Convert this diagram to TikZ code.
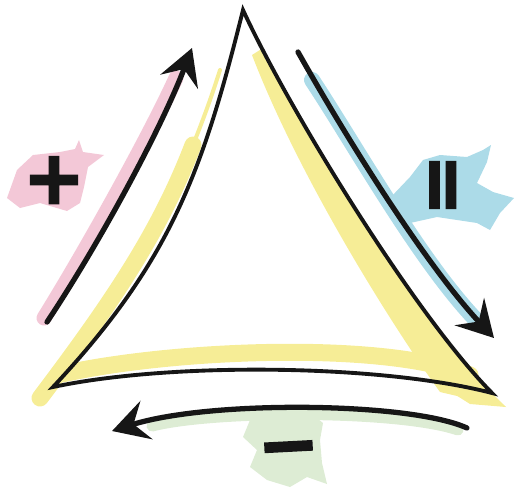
\documentclass[tikz,border=0pt]{standalone}
\usepackage{fontspec}
\usepackage{tikz}
\usetikzlibrary{arrows.meta}
\newfontfamily\signfont[FakeBold=3]{DejaVu Sans Bold}
\definecolor{myink}{RGB}{22,22,22}
\definecolor{myyellow}{RGB}{246,237,150}
\definecolor{mypink}{RGB}{243,200,215}
\definecolor{myblue}{RGB}{172,219,232}
\definecolor{mygreen}{RGB}{221,236,212}
\tikzset{
  side/.style={draw=myink, line width=2.2pt, line join=miter},
  flow/.style={draw=myink, line width=3pt, line cap=round,
    -{Stealth[length=0.72cm, width=0.8cm, inset=0.27cm]}},
  wash/.style={line width=0.34cm, line cap=round},
  thinwash/.style={line width=0.08cm, line cap=round},
  sign/.style={inner sep=0pt, text=myink,
    font=\signfont\fontsize{42}{42}\selectfont}
}

\begin{document}
\begin{tikzpicture}[x=0.02cm, y=-0.02cm]
  \useasboundingbox (0,0) rectangle (516,491);

  % corners and arrow ends
  \coordinate (apex) at (243,10);
  \coordinate (lft) at (53,387);
  \coordinate (rgt) at (492,393);
  \coordinate (plusA) at (47,322);
  \coordinate (plusB) at (192,48);
  \coordinate (eqA) at (298,52);
  \coordinate (eqB) at (494,338);
  \coordinate (minA) at (467,428);
  \coordinate (minB) at (112,431);

  % colour blobs
  \fill[mypink] (7,198) -- (17,170) -- (33,155) -- (60,152) -- (75,149) -- (79,140)
    -- (83,152) -- (104,155) -- (88,167) -- (84,187) -- (80,203) -- (67,211)
    -- (40,203) -- (20,208) -- cycle;
  \fill[myblue] (390,198) -- (410,177) -- (423,160) -- (440,155) -- (467,157)
    -- (483,150) -- (491,145) -- (487,162) -- (477,183) -- (493,192) -- (514,198)
    -- (500,213) -- (490,230) -- (477,223) -- (457,220) -- (437,217) -- (410,223)
    -- (394,204) -- cycle;
  \fill[mygreen] (243,437) -- (250,420) -- (273,413) -- (307,410) -- (323,423)
    -- (320,440) -- (322,463) -- (327,484) -- (307,477) -- (290,487) -- (267,480)
    -- (250,467) -- (257,450) -- cycle;

  % highlight strips
  \draw[mypink, line width=0.3cm, line cap=round]
    (44,318) .. controls (88,247) and (150,135) .. (176,78);
  \draw[myblue, line width=0.32cm, line cap=round]
    (312,80) .. controls (355,145) and (420,262) .. (478,322);
  \draw[mygreen, line width=0.22cm, line cap=round]
    (152,426) .. controls (215,410) and (400,410) .. (458,430);

  % yellow wash
  \draw[myyellow, wash] (40,398) .. controls (114,300) and (160,231) .. (193,145);
  \draw[myyellow, thinwash] (193,145) .. controls (205,115) and (212,95) .. (220,70);
  \draw[myyellow, wash] (62,374) .. controls (170,350) and (380,340) .. (470,375);
  \fill[myyellow] (263,48) .. controls (318,157) and (424,324) .. (492,393)
    -- (506,407) -- (470,399) -- (440,392)
    .. controls (395,330) and (300,180) .. (252,55) -- cycle;
  \fill[myyellow] (440,385) -- (492,395) -- (506,407) -- (470,404) -- cycle;

  % triangle
  \draw[side] (lft) .. controls (169,263) and (202,175) .. (apex)
    .. controls (289,110) and (415,315) .. (rgt)
    .. controls (380,364) and (170,362) .. (lft) -- cycle;

  % arrows
  \draw[flow] (plusA) .. controls (97,247) and (160,132) .. (plusB);
  \draw[flow] (eqA) .. controls (347,139) and (425,264) .. (eqB);
  \draw[flow] (minA) .. controls (410,402) and (210,400) .. (minB);

  % signs
  \node[sign] (plus) at (54,180) {+};
  \node[sign, rotate=90] (equal) at (448,185) {=};
  \node[sign, rotate=3] (minus) at (289,456) {−};
\end{tikzpicture}
\end{document}
